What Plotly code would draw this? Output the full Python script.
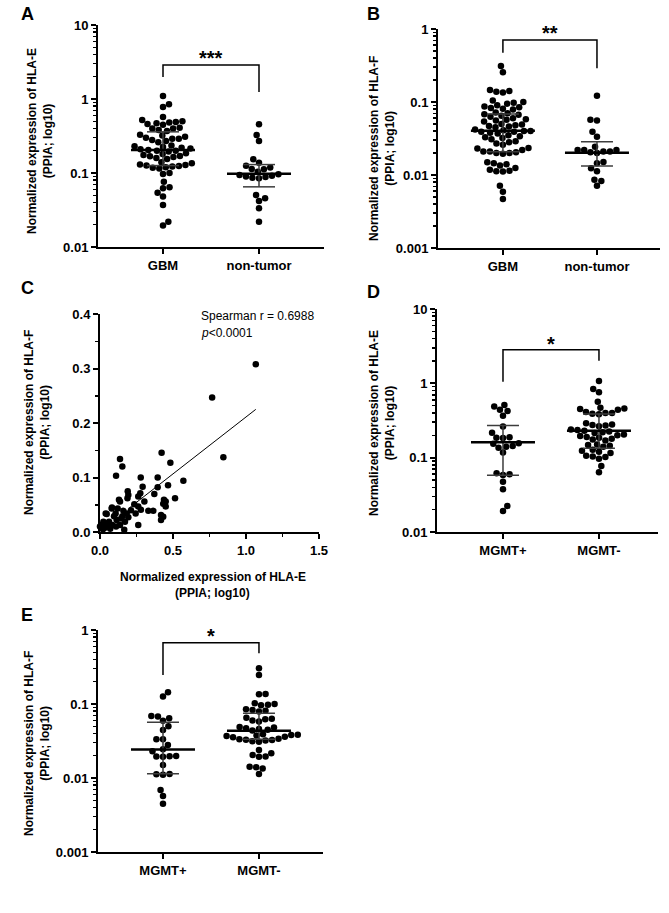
import numpy as np
import plotly.graph_objects as go

W, H = 669, 913
FONT = "Liberation Sans, Arial, Helvetica, sans-serif"

# ---------------- data ----------------
A_CATS = ["GBM", "non-tumor"]
A_GBM = [1.10, 0.85, 0.78, 0.57,
         0.52, 0.50, 0.49, 0.48, 0.47, 0.46, 0.45,
         0.41, 0.40, 0.40, 0.38, 0.37,
         0.33, 0.32, 0.31, 0.30, 0.29, 0.29, 0.28, 0.27, 0.26,
         0.235, 0.23, 0.225, 0.22, 0.215, 0.21, 0.205, 0.20, 0.20, 0.195,
         0.185, 0.18, 0.175, 0.17, 0.168, 0.165, 0.16, 0.155,
         0.14, 0.135, 0.13, 0.128, 0.126, 0.124, 0.122, 0.12, 0.118, 0.115,
         0.10, 0.097, 0.076, 0.064, 0.062, 0.054, 0.048, 0.037, 0.022, 0.0195]
A_NT = [0.455, 0.327, 0.27, 0.153, 0.138, 0.1255, 0.119, 0.113, 0.112, 0.104,
        0.096, 0.094, 0.092, 0.090, 0.088, 0.086, 0.085,
        0.0505, 0.0455, 0.042, 0.0334, 0.022]
A_MEDIAN = [0.205, 0.098]
A_Q1 = [0.126, 0.065]
A_Q3 = [0.36, 0.13]
A_BRACKET = [1.98, 2.88, 1.24]      # left leg end, bar height, right leg end
A_STAR_Y = 4.19
A_STARS = "***"

B_CATS = ["GBM", "non-tumor"]
B_GBM = [0.311, 0.255,
         0.146, 0.142, 0.138, 0.135,
         0.105, 0.100, 0.098, 0.095,
         0.090, 0.087, 0.085, 0.083, 0.081, 0.079,
         0.072, 0.070, 0.068, 0.067, 0.065, 0.063,
         0.060, 0.058, 0.057, 0.056, 0.054,
         0.050, 0.049, 0.048, 0.047, 0.046, 0.045,
         0.042, 0.041, 0.040, 0.040, 0.039, 0.039, 0.038, 0.037,
         0.035, 0.034, 0.033, 0.032, 0.031,
         0.029, 0.028, 0.027, 0.026,
         0.0235, 0.023,
         0.022, 0.021, 0.021, 0.0205, 0.020, 0.020, 0.0195,
         0.015, 0.0145, 0.014, 0.0135,
         0.0125, 0.0118, 0.0114, 0.0113, 0.0112,
         0.0071, 0.0059, 0.0047]
B_NT = [0.122, 0.057, 0.056, 0.039, 0.0335, 0.0244, 0.022, 0.022, 0.021, 0.021,
        0.0205, 0.020, 0.022, 0.0151, 0.0145, 0.0124, 0.0113, 0.0086, 0.0083, 0.0071]
B_MEDIAN = [0.0405, 0.0202]
B_Q1 = [0.0208, 0.0133]
B_Q3 = [0.0686, 0.0286]
B_BRACKET = [0.473, 0.706, 0.29]
B_STAR_Y = 1.03
B_STARS = "**"

C_HLAE = [1.067, 0.768, 0.845, 0.422, 0.482, 0.137, 0.153, 0.110, 0.279, 0.395,
          0.571, 0.466, 0.292, 0.395, 0.190, 0.276, 0.372, 0.194, 0.262, 0.514,
          0.188, 0.130, 0.438, 0.137, 0.450, 0.304, 0.235, 0.433, 0.262, 0.450,
          0.080, 0.121, 0.212, 0.331, 0.365, 0.160, 0.280, 0.039, 0.107, 0.183,
          0.244, 0.418, 0.096, 0.153, 0.433, 0.194, 0.023, 0.062, 0.114, 0.171,
          0.418, 0.011, 0.084, 0.137, 0.262, 0.034, 0.000, 0.070, 0.166, 0.110,
          0.082, 0.046, 0.020, 0.050, 0.145]
C_HLAF = [0.308, 0.247, 0.137, 0.1456, 0.127, 0.134, 0.120, 0.103, 0.100, 0.100,
          0.094, 0.086, 0.083, 0.082, 0.075, 0.071, 0.0697, 0.068, 0.065, 0.062,
          0.062, 0.059, 0.059, 0.056, 0.056, 0.056, 0.051, 0.052, 0.047, 0.047,
          0.043, 0.043, 0.040, 0.039, 0.039, 0.039, 0.041, 0.034, 0.034, 0.034,
          0.034, 0.031, 0.029, 0.029, 0.028, 0.027, 0.019, 0.019, 0.022, 0.019,
          0.022, 0.0128, 0.0128, 0.0128, 0.0128, 0.008, 0.010, 0.006, 0.004, 0.010,
          0.045, 0.033, 0.005, 0.012, 0.025]
C_FIT_X = [0.20, 1.067]
C_FIT_Y = [0.044, 0.225]
C_SPEARMAN = "Spearman r = 0.6988"
C_P = "<i>p</i>&lt;0.0001"

D_CATS = ["MGMT+", "MGMT-"]
D_PLUS = [0.512, 0.487, 0.44, 0.425, 0.367, 0.262, 0.217, 0.188, 0.186, 0.184,
          0.156, 0.154, 0.144, 0.140, 0.136, 0.117, 0.0617, 0.060, 0.0586, 0.0475,
          0.0375, 0.0224, 0.0192]
D_MINUS = [1.077, 0.84, 0.76, 0.567,
           0.47, 0.46, 0.45, 0.44,
           0.41, 0.40, 0.40, 0.39, 0.385,
           0.29, 0.28, 0.275, 0.27, 0.265,
           0.24, 0.235, 0.23, 0.225, 0.22, 0.215,
           0.205, 0.20, 0.195, 0.19,
           0.185, 0.18, 0.175, 0.17,
           0.15, 0.148, 0.145, 0.14,
           0.128, 0.124, 0.12, 0.116,
           0.106, 0.104, 0.102, 0.097, 0.077, 0.0636]
D_MEDIAN = [0.161, 0.231]
D_Q1 = [0.058, 0.134]
D_Q3 = [0.27, 0.387]
D_BRACKET = [1.05, 2.82, 2.02]
D_STAR_Y = 3.96
D_STARS = "*"

E_CATS = ["MGMT+", "MGMT-"]
E_PLUS = [0.144, 0.126, 0.069, 0.068, 0.064, 0.0596, 0.050, 0.0445, 0.0335, 0.0333,
          0.028, 0.0244, 0.023, 0.0198, 0.0197, 0.0195, 0.0194, 0.015, 0.0113, 0.0112,
          0.0111, 0.0069, 0.0057, 0.0045]
E_MINUS = [0.304, 0.247, 0.137, 0.135,
           0.102, 0.100, 0.098, 0.096,
           0.085, 0.083, 0.081, 0.079,
           0.065, 0.063, 0.062, 0.060, 0.058,
           0.049, 0.048, 0.047, 0.046, 0.045, 0.044,
           0.039, 0.0385, 0.038, 0.0375, 0.037, 0.036, 0.0355,
           0.034, 0.0335, 0.033, 0.0325, 0.032, 0.0315, 0.031,
           0.0239, 0.0216, 0.0205, 0.0195, 0.0193,
           0.0142, 0.0140, 0.0134, 0.0113]
E_MEDIAN = [0.0242, 0.0436]
E_Q1 = [0.0114, 0.0334]
E_Q3 = [0.0565, 0.075]
E_BRACKET = [0.247, 0.673, 0.484]
E_STAR_Y = 0.98
E_STARS = "*"

Y_TITLE_E = "Normalized expression of HLA-E<br>(PPIA; log10)"
Y_TITLE_F = "Normalized expression of HLA-F<br>(PPIA; log10)"

# ---------------- layout geometry (page pixels) ----------------
# box = (left, top, right, bottom) of the plotting area
PANELS = {
    "A": dict(ax="", box=(98, 25, 324, 247), xr=[-0.677, 1.677], yr=[-2, 1]),
    "B": dict(ax="2", box=(438, 29, 660, 248), xr=[-0.69, 1.67], yr=[-3, 0]),
    "C": dict(ax="3", box=(100, 314, 319, 532), xr=[0, 1.5], yr=[0, 0.4]),
    "D": dict(ax="4", box=(437, 309, 658, 532), xr=[-0.6875, 1.615], yr=[-2, 1]),
    "E": dict(ax="5", box=(98, 630, 323, 852), xr=[-0.677, 1.667], yr=[-3, 0]),
}
DOT = 6.5


def px2x(px):
    return px / W


def px2y(py):
    return 1 - py / H


fig = go.Figure()
layout = dict(width=W, height=H, margin=dict(l=0, r=0, t=0, b=0, autoexpand=False),
              paper_bgcolor="white", plot_bgcolor="white", showlegend=False,
              template=go.layout.Template(),
              font=dict(family=FONT, color="black"))

TICKFONT = dict(family=FONT, size=13, color="black", weight="bold")
AXBASE = dict(showline=True, linecolor="black", linewidth=2, showgrid=False,
              zeroline=False, ticks="outside", ticklen=5, tickwidth=2,
              tickcolor="black", tickfont=TICKFONT, fixedrange=True,
              automargin=False)


def log_minor(lo, hi):
    return [k * 10.0 ** e for e in range(lo, hi) for k in range(2, 10)]


def swarm(vals, ppu_y, ppu_x, diam=DOT + 0.1):
    y = np.log10(np.asarray(vals, float)) * ppu_y
    order = np.argsort(y)
    xs = np.zeros(len(y))
    placed = []
    flip = 1
    for i in order:
        yi = y[i]
        cands = [0.0]
        blocks = []
        for xj, yj in placed:
            dy = abs(yi - yj)
            if dy < diam:
                dx = np.sqrt(diam ** 2 - dy ** 2)
                blocks.append((xj - dx, xj + dx))
                cands += [xj - dx, xj + dx]
        cands = sorted(cands, key=lambda c: (round(abs(c), 6), flip * c))
        best = 0.0
        for c in cands:
            if all(not (lo + 1e-6 < c < hi - 1e-6) for lo, hi in blocks):
                best = c
                break
        flip = -flip
        xs[i] = best
        placed.append((best, yi))
    return xs / ppu_x


def setup_axes(key, cats=None, log=True):
    p = PANELS[key]
    l, t, r, b = p["box"]
    xa = dict(AXBASE, domain=[px2x(l), px2x(r)], range=p["xr"],
              anchor="y" + p["ax"])
    ya = dict(AXBASE, domain=[px2y(b), px2y(t)], range=p["yr"],
              anchor="x" + p["ax"])
    if cats is not None:
        xa.update(tickmode="array", tickvals=[0, 1], ticktext=cats)
    if log:
        lo, hi = p["yr"]
        vals = [10.0 ** e for e in range(lo, hi + 1)]
        ya.update(type="log", tickmode="array", tickvals=vals,
                  ticktext=[("%g" % v) for v in vals],
                  minor=dict(ticks="outside", ticklen=3, tickwidth=1.5,
                             tickcolor="black", tickvals=log_minor(lo, hi)))
    layout["xaxis" + p["ax"]] = xa
    layout["yaxis" + p["ax"]] = ya


ann = layout.setdefault("annotations", [])


def dot_panel(key, cats, groups, med, q1, q3, bracket, star_y, stars):
    p = PANELS[key]
    l, t, r, b = p["box"]
    ppu_x = (r - l) / (p["xr"][1] - p["xr"][0])
    ppu_y = (b - t) / (p["yr"][1] - p["yr"][0])
    setup_axes(key, cats, log=True)
    xa, ya = "x" + p["ax"], "y" + p["ax"]
    for gi, vals in enumerate(groups):
        off = swarm(vals, ppu_y, ppu_x)
        fig.add_trace(go.Scatter(x=gi + off, y=vals, mode="markers",
                                 marker=dict(size=DOT, color="black"),
                                 xaxis=xa, yaxis=ya, cliponaxis=False,
                                 hoverinfo="skip"))
    # error bars (median with interquartile range)
    hw_m, hw_c = 32 / ppu_x, 16 / ppu_x
    ex, ey, mx, my = [], [], [], []
    for gi in range(len(groups)):
        ex += [gi, gi, None, gi - hw_c, gi + hw_c, None, gi - hw_c, gi + hw_c, None]
        ey += [q1[gi], q3[gi], None, q1[gi], q1[gi], None, q3[gi], q3[gi], None]
        mx += [gi - hw_m, gi + hw_m, None]
        my += [med[gi], med[gi], None]
    fig.add_trace(go.Scatter(x=ex, y=ey, mode="lines",
                             line=dict(color="#3c3c3c", width=1.5),
                             xaxis=xa, yaxis=ya, hoverinfo="skip"))
    fig.add_trace(go.Scatter(x=mx, y=my, mode="lines",
                             line=dict(color="black", width=2.5),
                             xaxis=xa, yaxis=ya, hoverinfo="skip"))
    # significance bracket
    fig.add_trace(go.Scatter(x=[0, 0, 1, 1],
                             y=[bracket[0], bracket[1], bracket[1], bracket[2]],
                             mode="lines", line=dict(color="black", width=1.5),
                             xaxis=xa, yaxis=ya, cliponaxis=False,
                             hoverinfo="skip"))
    # stars placed in paper coordinates (may lie at/above the axis top)
    frac_y = (np.log10(star_y) - p["yr"][0]) / (p["yr"][1] - p["yr"][0])
    frac_x = (0.5 - p["xr"][0]) / (p["xr"][1] - p["xr"][0])
    ann.append(dict(x=px2x(l + frac_x * (r - l)), y=px2y(b - frac_y * (b - t)),
                    xref="paper", yref="paper", text="<b>%s</b>" % stars,
                    showarrow=False, xanchor="center", yanchor="middle", yshift=-5,
                    font=dict(family=FONT, size=20, color="black")))


dot_panel("A", A_CATS, [A_GBM, A_NT], A_MEDIAN, A_Q1, A_Q3, A_BRACKET, A_STAR_Y, A_STARS)
dot_panel("B", B_CATS, [B_GBM, B_NT], B_MEDIAN, B_Q1, B_Q3, B_BRACKET, B_STAR_Y, B_STARS)
dot_panel("D", D_CATS, [D_PLUS, D_MINUS], D_MEDIAN, D_Q1, D_Q3, D_BRACKET, D_STAR_Y, D_STARS)
dot_panel("E", E_CATS, [E_PLUS, E_MINUS], E_MEDIAN, E_Q1, E_Q3, E_BRACKET, E_STAR_Y, E_STARS)

# ---- panel C: correlation ----
setup_axes("C", None, log=False)
layout["xaxis3"].update(tickmode="array", tickvals=[0, 0.5, 1.0, 1.5],
                        ticktext=["0.0", "0.5", "1.0", "1.5"],
                        minor=dict(ticks="outside", ticklen=3, tickwidth=1.5,
                                   tickcolor="black", tickvals=[0.25, 0.75, 1.25]))
layout["yaxis3"].update(tickmode="array", tickvals=[0, 0.1, 0.2, 0.3, 0.4],
                        ticktext=["0.0", "0.1", "0.2", "0.3", "0.4"],
                        minor=dict(ticks="outside", ticklen=3, tickwidth=1.5,
                                   tickcolor="black", tickvals=[0.05, 0.15, 0.25, 0.35]))
fig.add_trace(go.Scatter(x=C_HLAE, y=C_HLAF, mode="markers",
                         marker=dict(size=DOT, color="black"), xaxis="x3", yaxis="y3",
                         cliponaxis=False, hoverinfo="skip"))
fig.add_trace(go.Scatter(x=C_FIT_X, y=C_FIT_Y, mode="lines",
                         line=dict(color="black", width=1), xaxis="x3", yaxis="y3",
                         hoverinfo="skip"))


def ptext(text, x, y, size=12, bold=True, angle=0, xanchor="center", align="center"):
    ann.append(dict(x=px2x(x), y=px2y(y), xref="paper", yref="paper", text=text,
                    showarrow=False, textangle=angle, xanchor=xanchor,
                    yanchor="middle", align=align,
                    font=dict(family=FONT, size=size, color="black",
                              weight="bold" if bold else "normal")))


# y-axis titles
ptext(Y_TITLE_E, 40, 141, angle=-90)
ptext(Y_TITLE_F, 382, 148, angle=-90)
ptext(Y_TITLE_F, 37, 423, angle=-90)
ptext(Y_TITLE_E, 382, 423, angle=-90)
ptext(Y_TITLE_F, 37, 744, angle=-90)
# x-axis title of C
ptext("Normalized expression of HLA-E", 213, 577)
ptext("(PPIA; log10)", 213, 593)
# correlation stats
ptext(C_SPEARMAN, 199, 316, bold=False, xanchor="left", align="left")
ptext(C_P, 199, 333, bold=False, xanchor="left", align="left")
# panel letters
for letter, (x, y) in {"A": (27, 14), "B": (373, 14), "C": (27, 288),
                       "D": (373, 292), "E": (27, 615)}.items():
    ptext(letter, x, y, size=18)

fig.update_layout(**layout)
# remove the default 8px page margin so the figure fills the 669x913 window exactly
fig.write_html("out.html",
               config={"displayModeBar": False, "staticPlot": True},
               post_script="document.body.style.margin='0px';"
                           "document.documentElement.style.overflow='hidden';")
